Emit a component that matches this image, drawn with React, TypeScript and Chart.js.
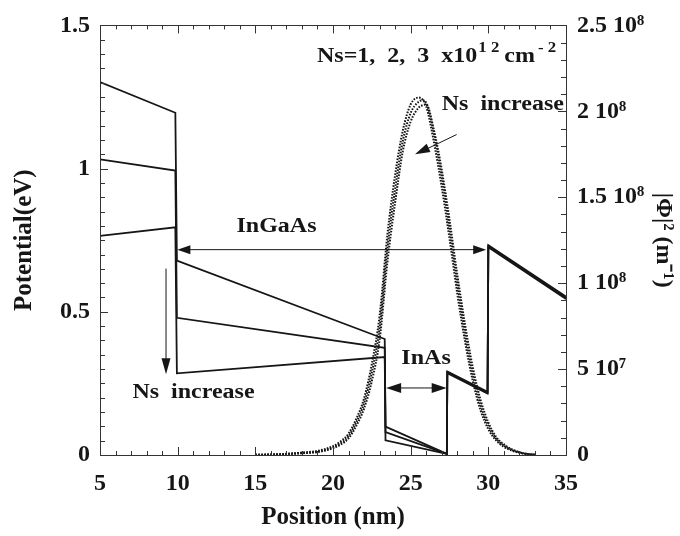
import React, { useEffect, useRef } from 'react';
import { Chart, registerables } from 'chart.js';

Chart.register(...registerables);

// ---- Data ----
// Conduction band potential profiles (eV) vs position (nm) for Ns = 1, 2, 3 x10^12 cm^-2
const bandPositions = [5, 9.85, 9.95, 23.33, 23.38, 27.33, 27.36, 29.95, 30.0, 35];
const potentialNs1 = [1.302, 1.195, 0.679, 0.405, 0.099, 0.004, 0.292, 0.221, 0.733, 0.553];
const potentialNs2 = [1.032, 0.993, 0.479, 0.374, 0.080, 0.004, 0.289, 0.218, 0.729, 0.549];
const potentialNs3 = [0.765, 0.795, 0.285, 0.342, 0.051, 0.004, 0.286, 0.215, 0.725, 0.545];

// |Phi|^2 in units of 1e8 m^-1
const psiPositions = [15, 16, 17, 18, 19, 20, 20.5, 21, 21.5, 22, 22.5, 23, 23.5, 24, 24.5, 25, 25.5, 25.75, 26, 26.5, 27, 27.5, 28, 28.5, 29, 29.5, 30, 30.5, 31, 31.5, 32, 32.5, 33];
const psiNs1 = [0.001, 0.002, 0.005, 0.010, 0.017, 0.039, 0.061, 0.097, 0.17, 0.27, 0.43, 0.67, 1.12, 1.47, 1.77, 1.94, 2.02, 2.035, 2.04, 1.89, 1.66, 1.37, 1.05, 0.76, 0.51, 0.32, 0.19, 0.105, 0.062, 0.034, 0.017, 0.007, 0.002];
const psiNs2 = [0.001, 0.003, 0.006, 0.012, 0.020, 0.045, 0.070, 0.110, 0.19, 0.30, 0.48, 0.74, 1.20, 1.55, 1.83, 1.99, 2.055, 2.064, 2.05, 1.87, 1.62, 1.32, 1.00, 0.71, 0.47, 0.29, 0.17, 0.095, 0.055, 0.030, 0.015, 0.006, 0.002];
const psiNs3 = [0.001, 0.003, 0.007, 0.014, 0.024, 0.052, 0.080, 0.125, 0.21, 0.33, 0.53, 0.81, 1.28, 1.63, 1.89, 2.04, 2.08, 2.07, 2.03, 1.82, 1.56, 1.26, 0.94, 0.66, 0.43, 0.26, 0.15, 0.085, 0.048, 0.026, 0.013, 0.005, 0.002];

const xTickValues = [5, 10, 15, 20, 25, 30, 35];
const yLeftTickLabels: Record<string, string> = { '0': '0', '0.5': '0.5', '1': '1', '1.5': '1.5' };
const yRightTickLabels: Record<string, string> = {
  '0': '0',
  '0.5': '5 10\u2077',
  '1': '1 10\u2078',
  '1.5': '1.5 10\u2078',
  '2': '2 10\u2078',
  '2.5': '2.5 10\u2078',
};

const FONT = '"Liberation Serif", "Times New Roman", serif';
const INK = '#161616';

function pts(xs: number[], ys: number[]) {
  return xs.map((x, i) => ({ x, y: ys[i] }));
}

function sText(ctx: CanvasRenderingContext2D, text: string, px: number, py: number, size: number, align: CanvasTextAlign = 'left', stretch = 1.2) {
  ctx.save();
  ctx.translate(px, py);
  ctx.scale(stretch, 1);
  ctx.font = `bold ${size}px ${FONT}`;
  ctx.textAlign = align;
  ctx.textBaseline = 'middle';
  ctx.fillStyle = INK;
  ctx.fillText(text, 0, 0);
  const w = ctx.measureText(text).width * stretch;
  ctx.restore();
  return w;
}

function head(ctx: CanvasRenderingContext2D, fx: number, fy: number, tx: number, ty: number, len: number, half: number) {
  const a = Math.atan2(ty - fy, tx - fx);
  const bx = tx - len * Math.cos(a);
  const by = ty - len * Math.sin(a);
  ctx.beginPath();
  ctx.moveTo(tx, ty);
  ctx.lineTo(bx + half * Math.sin(a), by - half * Math.cos(a));
  ctx.lineTo(bx - half * Math.sin(a), by + half * Math.cos(a));
  ctx.closePath();
  ctx.fill();
}

function line(ctx: CanvasRenderingContext2D, x1: number, y1: number, x2: number, y2: number) {
  ctx.beginPath();
  ctx.moveTo(x1, y1);
  ctx.lineTo(x2, y2);
  ctx.stroke();
}

const frameAndTicks = {
  id: 'frameAndTicks',
  afterDraw(chart: any) {
    const { ctx, chartArea: a, scales } = chart;
    ctx.save();
    ctx.strokeStyle = '#333';
    ctx.lineWidth = 1;
    ctx.strokeRect(Math.round(a.left) + 0.5, Math.round(a.top) + 0.5, Math.round(a.right - a.left), Math.round(a.bottom - a.top));
    const sx = scales.x, sy = scales.y, sy2 = scales.y2;
    for (let i = 0; i <= 30; i++) {
      const v = 5 + i;
      const px = Math.round(sx.getPixelForValue(v)) + 0.5;
      const L = i % 5 === 0 ? 8 : 4;
      line(ctx, px, a.bottom, px, a.bottom - L);
      line(ctx, px, a.top, px, a.top + L);
    }
    for (let i = 0; i <= 30; i++) {
      const v = i * 0.05;
      const py = Math.round(sy.getPixelForValue(v)) + 0.5;
      const L = i % 10 === 0 ? 8 : 5;
      line(ctx, a.left, py, a.left + L, py);
    }
    for (let i = 0; i <= 25; i++) {
      const v = i * 0.1;
      const py = Math.round(sy2.getPixelForValue(v)) + 0.5;
      const L = i % 5 === 0 ? 8 : 5;
      line(ctx, a.right, py, a.right - L, py);
    }
    ctx.restore();
  },
};

const annotations = {
  id: 'annotations',
  afterDatasetsDraw(chart: any) {
    const { ctx, scales } = chart;
    const X = (v: number) => scales.x.getPixelForValue(v);
    const Y = (v: number) => scales.y.getPixelForValue(v);
    ctx.save();
    ctx.fillStyle = INK;
    ctx.strokeStyle = INK;
    ctx.lineWidth = 1;

    // InGaAs double arrow
    const ay = Y(0.717);
    const ax1 = X(9.98), ax2 = X(29.86);
    line(ctx, ax1 + 6, ay, ax2 - 6, ay);
    head(ctx, ax2, ay, ax1, ay, 13, 4.5);
    head(ctx, ax1, ay, ax2, ay, 13, 4.5);
    sText(ctx, 'InGaAs', X(16.36), Y(0.795), 20, 'center');

    // InAs double arrow
    const iy = Y(0.234);
    const ix1 = X(23.42), ix2 = X(27.32);
    line(ctx, ix1 + 6, iy, ix2 - 6, iy);
    head(ctx, ix2, iy, ix1, iy, 15, 5);
    head(ctx, ix1, iy, ix2, iy, 15, 5);
    sText(ctx, 'InAs', X(25.99), Y(0.336), 20, 'center');

    // Left "Ns increase" downward arrow
    const dx = X(9.25);
    line(ctx, dx, Y(0.651), dx, Y(0.30));
    head(ctx, dx, Y(0.651), dx, Y(0.282), 16, 4.5);
    sText(ctx, 'Ns  increase', X(11.02), Y(0.217), 20, 'center');

    // Right "Ns increase" arrow towards the wavefunction peak
    const r1x = X(27.96), r1y = Y(1.119), r2x = X(25.28), r2y = Y(1.05);
    line(ctx, r1x, r1y, r2x + 8, r2y - 3.5);
    head(ctx, r1x, r1y, r2x, r2y, 15, 4.5);
    sText(ctx, 'Ns  increase', X(27.0), Y(1.222), 20, 'left');

    // Top label: Ns=1, 2, 3 x10^12 cm^-2
    let tx = X(18.97);
    const ty = Y(1.392);
    tx += sText(ctx, 'Ns=1,  2,  3  x10', tx, ty, 20, 'left');
    tx += sText(ctx, '1 2', tx + 1, ty - 8, 14, 'left') + 6;
    tx += sText(ctx, 'cm', tx, ty, 20, 'left');
    sText(ctx, '- 2', tx + 3, ty - 8, 14, 'left');
    ctx.restore();
  },
};

export default function App() {
  const ref = useRef<HTMLCanvasElement | null>(null);

  useEffect(() => {
    const canvas = ref.current;
    if (!canvas) return;
    const potStyle = {
      type: 'line' as const,
      yAxisID: 'y',
      borderColor: INK,
      borderWidth: 1.8,
      pointRadius: 0,
      tension: 0,
      fill: false,
    };
    const psiStyle = {
      type: 'line' as const,
      yAxisID: 'y2',
      borderColor: INK,
      borderWidth: 2,
      borderDash: [1.6, 1.4],
      pointRadius: 0,
      cubicInterpolationMode: 'monotone' as const,
      fill: false,
    };
    const tickFont = { family: FONT, size: 24, weight: 'bold' as const };
    const chart = new Chart(canvas, {
      type: 'line',
      data: {
        datasets: [
          { ...potStyle, label: 'V Ns=1', data: pts(bandPositions, potentialNs1) },
          { ...potStyle, label: 'V Ns=2', data: pts(bandPositions, potentialNs2) },
          { ...potStyle, label: 'V Ns=3', data: pts(bandPositions, potentialNs3) },
          { ...psiStyle, label: '|Phi|^2 Ns=1', data: pts(psiPositions, psiNs1) },
          { ...psiStyle, label: '|Phi|^2 Ns=2', data: pts(psiPositions, psiNs2) },
          { ...psiStyle, label: '|Phi|^2 Ns=3', data: pts(psiPositions, psiNs3) },
        ],
      },
      options: {
        responsive: false,
        animation: false,
        devicePixelRatio: 1,
        layout: { padding: { top: 17, left: 0, right: 0, bottom: 0 }, autoPadding: false },
        plugins: { legend: { display: false }, tooltip: { enabled: false } },
        scales: {
          x: {
            type: 'linear',
            min: 5,
            max: 35,
            afterFit: (s: any) => { s.height = 81; },
            afterBuildTicks: (s: any) => { s.ticks = xTickValues.map((v) => ({ value: v })); },
            ticks: {
              callback: (v: any) => String(v),
              font: tickFont,
              color: INK,
              padding: 14,
              maxRotation: 0,
              autoSkip: false,
            },
            grid: { display: false, drawTicks: false },
            border: { display: false },
            title: {
              display: true,
              text: 'Position (nm)',
              font: { family: FONT, size: 25, weight: 'bold' },
              color: INK,
              padding: { top: 0, bottom: 3 },
            },
          },
          y: {
            type: 'linear',
            position: 'left',
            min: 0,
            max: 1.5,
            afterFit: (s: any) => { s.width = 100; },
            ticks: {
              stepSize: 0.5,
              callback: (v: any) => yLeftTickLabels[String(v)] ?? '',
              font: tickFont,
              color: INK,
              padding: 10,
            },
            grid: { display: false, drawTicks: false },
            border: { display: false },
            title: {
              display: true,
              text: 'Potential(eV)',
              font: { family: FONT, size: 25, weight: 'bold' },
              color: INK,
              padding: { top: 10, bottom: 0 },
            },
          },
          y2: {
            type: 'linear',
            position: 'right',
            min: 0,
            max: 2.5,
            afterFit: (s: any) => { s.width = 114; },
            ticks: {
              stepSize: 0.5,
              callback: (v: any) => yRightTickLabels[String(v)] ?? '',
              font: tickFont,
              color: INK,
              padding: 11,
            },
            grid: { display: false, drawTicks: false },
            border: { display: false },
            title: {
              display: true,
              text: '|\u03A6|\u00B2 (m\u207B\u00B9)',
              font: { family: FONT, size: 24, weight: 'bold' },
              color: INK,
              padding: { top: 2, bottom: 0 },
            },
          },
        },
      },
      plugins: [frameAndTicks, annotations],
    } as any);
    return () => chart.destroy();
  }, []);

  return (
    <div style={{ position: 'absolute', left: 0, top: 0, width: 680, height: 536, background: '#fff' }}>
      <canvas ref={ref} width={680} height={536} />
    </div>
  );
}
